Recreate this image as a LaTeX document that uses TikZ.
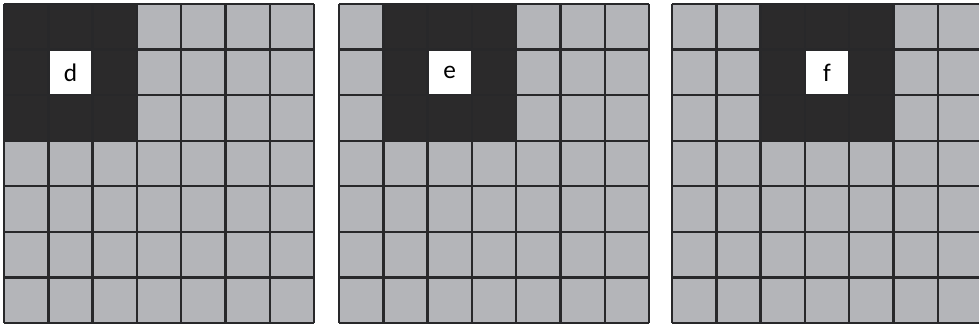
\documentclass[tikz,border=0pt]{standalone}
\usepackage{fontspec}
\setsansfont{Carlito}
\usetikzlibrary{positioning}
\definecolor{cellgray}{RGB}{180,181,185}
\definecolor{celldark}{RGB}{43,42,43}
\definecolor{gridline}{RGB}{40,40,42}

\begin{document}
\begin{tikzpicture}[x=0.75pt, y=-0.75pt, every node/.style={font=\sffamily\fontsize{19}{19}\selectfont}]
  \tikzset{
    cellbg/.style={fill=cellgray},
    block/.style={fill=celldark},
    gridlines/.style={draw=gridline, line width=1.8pt},
    tag/.style={rectangle, fill=white, minimum width=33pt, minimum height=34pt, inner sep=0pt}
  }
  \useasboundingbox (0,0) rectangle (979,330);

  % panels: left edge / first dark column / label
  \foreach \px/\c/\t in {4/0/d, 339/1/e, 672/2/f} {
    \fill[cellbg] (\px,4) rectangle ++(310,319);
    \fill[block] (\px+\c*44.3,4) rectangle ++(132.9,136.8);
    \node[tag] (tag\t) at (\px+\c*44.3+66.45,4+68.4) {\t};
    \foreach \k in {0,...,7} {
      \draw[gridlines] (\px+\k*44.3,4) -- ++(0,319);
      \draw[gridlines] (\px,4+\k*45.57) -- ++(310,0);
    }
  }
\end{tikzpicture}
\end{document}
